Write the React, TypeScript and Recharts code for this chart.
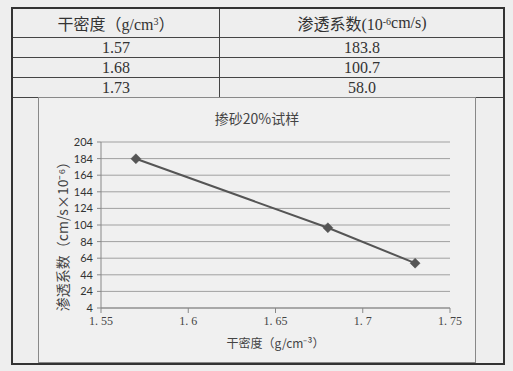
import React from 'react';
import { LineChart, Line, XAxis, YAxis, CartesianGrid } from 'recharts';

const densities = [1.57, 1.68, 1.73];
const permeability = [183.8, 100.7, 58.0];
const tableDensityLabels = ['1.57', '1.68', '1.73'];
const tablePermLabels = ['183.8', '100.7', '58.0'];
const xTicks = [1.55, 1.6, 1.65, 1.7, 1.75];
const xTickLabels = ['1. 55', '1. 6', '1. 65', '1. 7', '1. 75'];
const yTicks = [4, 24, 44, 64, 84, 104, 124, 144, 164, 184, 204];
const chartTitle = '掺砂20%试样';
const xTitle = '干密度（g/cm⁻³）';
const yTitle = '渗透系数（cm/s×10⁻⁶）';

const data = densities.map((d, i) => ({ x: d, y: permeability[i] }));

const serif = '"Liberation Serif", "Noto Sans CJK SC", serif';
const cjk = '"Noto Sans CJK SC", "Liberation Sans", sans-serif';

const Diamond = (props: any) => {
  const { cx, cy } = props;
  if (cx == null || cy == null) return null;
  const r = 5;
  return (
    <polygon
      points={`${cx},${cy - r} ${cx + r},${cy} ${cx},${cy + r} ${cx - r},${cy}`}
      fill="#555"
      stroke="#555"
      strokeWidth={0.5}
    />
  );
};

const YLabel = (props: any) => {
  const vb = props.viewBox || {};
  const cx = 62 - 38;
  const cy = (vb.y ?? 45) + (vb.height ?? 166) / 2 + 8;
  return (
    <text
      x={cx}
      y={cy}
      transform={`rotate(-90, ${cx}, ${cy})`}
      textAnchor="middle"
      dominantBaseline="central"
      fontFamily={cjk}
      fontSize={14}
      fill="#444"
    >
      {yTitle}
    </text>
  );
};

export default function App() {
  const rowStyle = (top: number, h: number): React.CSSProperties => ({
    position: 'absolute',
    left: 0,
    top,
    width: '100%',
    height: h,
    borderBottom: '1px solid #444',
    boxSizing: 'border-box',
  });
  const cellStyle = (left: number, width: number): React.CSSProperties => ({
    position: 'absolute',
    left,
    width,
    top: 0,
    height: '100%',
    display: 'flex',
    alignItems: 'center',
    justifyContent: 'center',
    fontFamily: serif,
    fontSize: 16,
    color: '#333',
  });
  return (
    <div
      style={{
        position: 'absolute',
        left: 0,
        top: 0,
        width: 513,
        height: 371,
        background: '#eeeeee',
        overflow: 'hidden',
      }}
    >
      <div
        style={{
          position: 'absolute',
          left: 11,
          top: 7,
          width: 494,
          height: 358,
          border: '2px solid #333',
          boxSizing: 'border-box',
        }}
      >
        <div style={rowStyle(0, 29)}>
          <div style={cellStyle(0, 206)}>
            干密度（g/cm<sup style={{ fontSize: 10, position: 'relative', top: -2 }}>3</sup>）
          </div>
          <div style={cellStyle(206, 286)}>
            渗透系数(10<sup style={{ fontSize: 10, position: 'relative', top: -2 }}>-6</sup>cm/s)
          </div>
        </div>
        {tableDensityLabels.map((t, i) => (
          <div key={t} style={rowStyle(29 + i * 20, 20)}>
            <div style={cellStyle(0, 206)}>{t}</div>
            <div style={cellStyle(206, 286)}>{tablePermLabels[i]}</div>
          </div>
        ))}
        <div
          style={{
            position: 'absolute',
            left: 206,
            top: 0,
            width: 1,
            height: 89,
            background: '#444',
          }}
        />
      </div>
      <div
        style={{
          position: 'absolute',
          left: 38,
          top: 97,
          width: 438,
          height: 266,
          border: '1px solid #888',
          boxSizing: 'border-box',
          background: '#f0f0f0',
        }}
      >
        <div
          style={{
            position: 'absolute',
            left: 0,
            top: 10,
            width: '100%',
            textAlign: 'center',
            fontFamily: cjk,
            fontSize: 14,
            color: '#444',
          }}
        >
          {chartTitle}
        </div>
      </div>
      <div style={{ position: 'absolute', left: 38, top: 97 }}>
        <LineChart
          width={438}
          height={266}
          data={data}
          margin={{ top: 45, right: 26, bottom: 0, left: 0 }}
        >
          <CartesianGrid horizontal vertical={false} stroke="#a0a0a0" />
          <XAxis
            dataKey="x"
            type="number"
            domain={[1.55, 1.75]}
            ticks={xTicks}
            tickFormatter={(v: number) => xTickLabels[xTicks.indexOf(v)] ?? String(v)}
            height={55}
            stroke="#888"
            tickSize={5}
            tickMargin={3}
            tick={{ fill: '#444', fontSize: 12, fontFamily: serif }}
            label={{
              value: xTitle,
              position: 'insideBottom',
              offset: 15,
              fill: '#444',
              fontSize: 12,
              fontFamily: cjk,
            }}
            allowDataOverflow
          />
          <YAxis
            type="number"
            domain={[4, 204]}
            ticks={yTicks}
            width={63}
            stroke="#888"
            tickSize={4}
            tickMargin={4}
            tick={{ fill: '#333', fontSize: 11, fontFamily: 'Lato, "Open Sans", sans-serif' }}
            label={<YLabel />}
            interval={0}
          />
          <Line
            dataKey="y"
            stroke="#555"
            strokeWidth={2}
            dot={<Diamond />}
            activeDot={false}
            isAnimationActive={false}
          />
        </LineChart>
      </div>
    </div>
  );
}
